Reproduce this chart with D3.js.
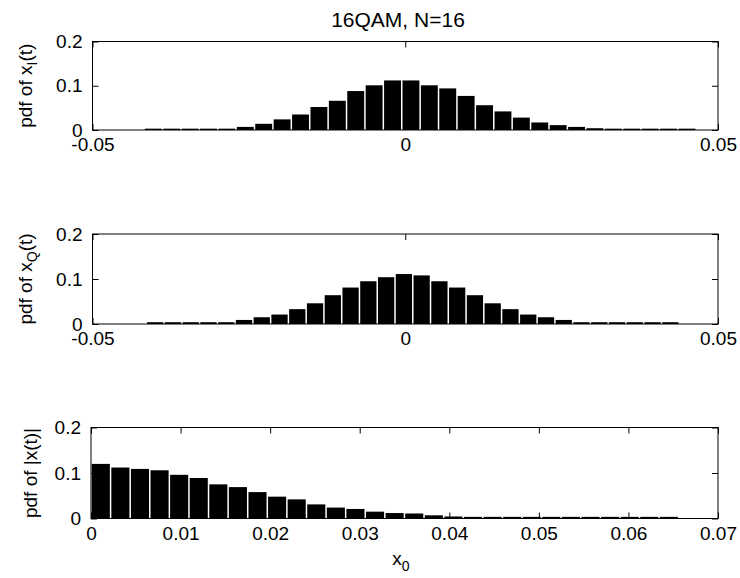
<!DOCTYPE html>
<html>
<head>
<meta charset="utf-8">
<script src="https://cdn.jsdelivr.net/npm/d3@7"></script>
<style>
  html, body { margin: 0; padding: 0; background: #fff; }
  svg { display: block; }
  text { font-family: "Liberation Sans", Arial, Helvetica, sans-serif; fill: #000; }
</style>
</head>
<body>
<svg id="chart" width="740" height="578"></svg>
<script>
// ---------- data ----------
const title = "16QAM, N=16";

// panel 1: pdf of x_I(t), 30 histogram bins
const binsI = { lo: -0.04175, width: 0.002942 };
const pdfI = [0.003, 0.003, 0.003, 0.003, 0.003, 0.007, 0.014, 0.024, 0.035, 0.052,
              0.066, 0.088, 0.101, 0.112, 0.112, 0.101, 0.094, 0.077, 0.056, 0.042,
              0.028, 0.017, 0.011, 0.007, 0.004, 0.003, 0.003, 0.003, 0.003, 0.003];

// panel 2: pdf of x_Q(t), 30 histogram bins
const binsQ = { lo: -0.0414, width: 0.00284 };
const pdfQ = [0.004, 0.004, 0.004, 0.004, 0.004, 0.009, 0.015, 0.021, 0.033, 0.046,
              0.064, 0.081, 0.095, 0.104, 0.111, 0.108, 0.095, 0.081, 0.064, 0.046,
              0.033, 0.021, 0.015, 0.009, 0.004, 0.004, 0.004, 0.004, 0.004, 0.004];

// panel 3: pdf of |x(t)|, 30 histogram bins
const binsA = { lo: 0, width: 0.002187 };
const pdfA = [0.120, 0.112, 0.109, 0.106, 0.096, 0.089, 0.075, 0.069, 0.058, 0.048,
              0.042, 0.031, 0.024, 0.021, 0.015, 0.012, 0.011, 0.007, 0.0044, 0.0036,
              0.0036, 0.0036, 0.0036, 0.0036, 0.0036, 0.0036, 0.0036, 0.0036, 0.0036, 0.0036];

const xDomainIQ = [-0.05, 0.05];
const xTicksIQ = [-0.05, 0, 0.05];
const xTickLabelsIQ = ["-0.05", "0", "0.05"];
const xDomainA = [0, 0.07];
const xTicksA = [0, 0.01, 0.02, 0.03, 0.04, 0.05, 0.06, 0.07];
const xTickLabelsA = ["0", "0.01", "0.02", "0.03", "0.04", "0.05", "0.06", "0.07"];
const yDomain = [0, 0.2];
const yTicks = [0, 0.1, 0.2];
const yTickLabels = ["0", "0.1", "0.2"];

// ---------- layout ----------
const svg = d3.select("#chart");
const FS = 19;

const panels = [
  { box: { l: 92.5, r: 718, t: 41.5, b: 130 }, bins: binsI, vals: pdfI, xd: xDomainIQ, xt: xTicksIQ, xl: xTickLabelsIQ,
    ylab: ["pdf of x", "I", "(t)"], ylabX: 32 },
  { box: { l: 92.5, r: 718, t: 234, b: 324 }, bins: binsQ, vals: pdfQ, xd: xDomainIQ, xt: xTicksIQ, xl: xTickLabelsIQ,
    ylab: ["pdf of x", "Q", "(t)"], ylabX: 32 },
  { box: { l: 91, r: 718, t: 427.5, b: 518.5 }, bins: binsA, vals: pdfA, xd: xDomainA, xt: xTicksA, xl: xTickLabelsA,
    ylab: ["pdf of |x(t)|", null, null], ylabX: 37 }
];

panels.forEach(p => {
  const b = p.box;
  const x = d3.scaleLinear().domain(p.xd).range([b.l, b.r]);
  const y = d3.scaleLinear().domain(yDomain).range([b.b, b.t]);
  const g = svg.append("g");

  // bars
  const data = p.vals.map((v, i) => ({ x0: p.bins.lo + i * p.bins.width, x1: p.bins.lo + (i + 1) * p.bins.width, v }));
  g.selectAll("rect.bar").data(data).enter().append("rect")
    .attr("class", "bar")
    .attr("x", d => x(d.x0) + 0.75)
    .attr("width", d => Math.max(0, x(d.x1) - x(d.x0) - 1.5))
    .attr("y", d => y(d.v))
    .attr("height", d => y(0) - y(d.v))
    .attr("fill", "#000");

  // axes (ticks inside)
  const fmtX = d => p.xl[p.xt.indexOf(d)];
  const fmtY = d => yTickLabels[yTicks.indexOf(d)];

  const axB = g.append("g").attr("transform", `translate(0,${b.b})`)
    .call(d3.axisBottom(x).tickValues(p.xt).tickFormat(fmtX).tickSize(-6).tickPadding(8));
  const axT = g.append("g").attr("transform", `translate(0,${b.t})`)
    .call(d3.axisTop(x).tickValues(p.xt).tickFormat("").tickSize(-6));
  const axL = g.append("g").attr("transform", `translate(${b.l},0)`)
    .call(d3.axisLeft(y).tickValues(yTicks).tickFormat(fmtY).tickSize(-6).tickPadding(10));
  const axR = g.append("g").attr("transform", `translate(${b.r},0)`)
    .call(d3.axisRight(y).tickValues(yTicks).tickFormat("").tickSize(-6));

  [axB, axT, axL, axR].forEach(a => {
    a.select(".domain").remove();
    a.selectAll("line").attr("stroke", "#000").attr("stroke-width", 1);
    a.selectAll("text").style("font-size", FS + "px").attr("fill", "#000")
      .style("font-family", '"Liberation Sans", Arial, sans-serif');
  });

  // box
  g.append("rect")
    .attr("x", b.l).attr("y", b.t)
    .attr("width", b.r - b.l).attr("height", b.b - b.t)
    .attr("fill", "none").attr("stroke", "#000").attr("stroke-width", 1);

  // y label
  const cy = (b.t + b.b) / 2;
  const t = svg.append("text")
    .attr("transform", `translate(${p.ylabX},${cy}) rotate(-90)`)
    .attr("text-anchor", "middle")
    .style("font-size", FS + "px");
  t.append("tspan").text(p.ylab[0]);
  if (p.ylab[1]) {
    t.append("tspan").attr("dy", 5).style("font-size", "14px").text(p.ylab[1]);
    t.append("tspan").attr("dy", -5).text(p.ylab[2]);
  }
});

// title
svg.append("text")
  .attr("x", 398).attr("y", 27)
  .attr("text-anchor", "middle")
  .style("font-size", "21px")
  .text(title);

// x label of bottom panel: x_0
const xl = svg.append("text")
  .attr("x", 401).attr("y", 565)
  .attr("text-anchor", "middle")
  .style("font-size", FS + "px");
xl.append("tspan").text("x");
xl.append("tspan").attr("dy", 6).style("font-size", "14px").text("0");
</script>
</body>
</html>
